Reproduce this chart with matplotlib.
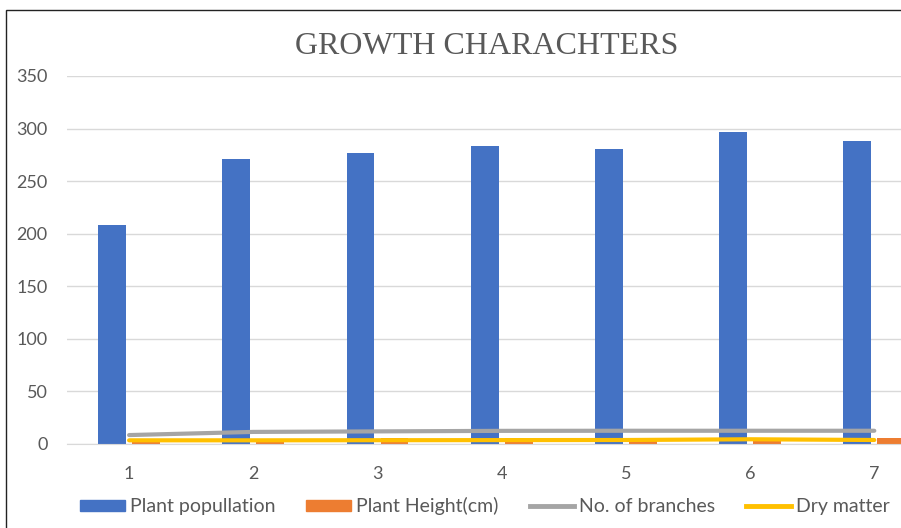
import numpy as np
import matplotlib
matplotlib.use("Agg")
import matplotlib.pyplot as plt
from matplotlib.patches import Rectangle
from matplotlib.lines import Line2D
from matplotlib.patches import Patch

# Growth characters per treatment
treatments = ["1", "2", "3", "4", "5", "6", "7"]
plant_population = [208, 271, 277, 283, 281, 297, 288]
plant_height = [3, 3, 6, 6, 6, 6, 6]
no_of_branches = [8.5, 11.5, 12, 12.5, 12.6, 12.6, 12.6]
dry_matter = [3.5, 3.5, 3.6, 3.7, 3.8, 4.5, 3.8]

BLUE = "#4472C4"
ORANGE = "#ED7D31"
GRAY = "#A5A5A5"
YELLOW = "#FFC000"
TEXT = "#595959"

plt.rcParams["font.family"] = ["Lato", "DejaVu Sans"]

W, H = 901, 528
fig = plt.figure(figsize=(W / 100, H / 100), dpi=100)

# outer chart border (only top and left edges show)
fig.patches.append(Rectangle((6 / W, -0.1), 1.2, (H - 10) / H + 0.1,
                             transform=fig.transFigure, fill=False,
                             edgecolor="#222222", linewidth=1.0))

ax = fig.add_axes([67 / W, 1 - 444 / H, (W - 67) / W, (444 - 76) / H])

x = np.arange(1, len(treatments) + 1)
bw = 0.225
off = 0.137
ax.bar(x - off, plant_population, bw, color=BLUE, zorder=2)
ax.bar(x + off, plant_height, bw, color=ORANGE, zorder=2)
ax.plot(x, no_of_branches, color=GRAY, lw=3.0, solid_capstyle="round", zorder=3)
ax.plot(x, dry_matter, color=YELLOW, lw=3.0, solid_capstyle="round", zorder=4)

ax.set_xlim(0.5, 0.5 + (W - 67) / 124.2)
ax.set_ylim(0, 350)
ax.set_yticks(range(0, 351, 50))
ax.set_xticks(x)
ax.set_xticklabels(treatments)
ax.yaxis.grid(True, color="#D9D9D9", lw=1.0, zorder=0)
ax.set_axisbelow(True)
for s in ["top", "right", "left"]:
    ax.spines[s].set_visible(False)
ax.spines["bottom"].set_color("#D9D9D9")
ax.tick_params(axis="both", length=0, labelsize=13, colors=TEXT)
ax.tick_params(axis="x", pad=16)
ax.tick_params(axis="y", pad=14)

fig.text(487 / W, 1 - 47 / H, "GROWTH CHARACHTERS", ha="center", va="center",
         fontsize=23, color=TEXT, family="Liberation Serif")

handles = [Patch(color=BLUE), Patch(color=ORANGE),
           Line2D([], [], color=GRAY, lw=3.5), Line2D([], [], color=YELLOW, lw=3.5)]
labels = ["Plant popullation", "Plant Height(cm)", "No. of branches", "Dry matter"]
fig.legend(handles, labels, loc="center", bbox_to_anchor=(485 / W, 1 - 506 / H),
           ncol=4, frameon=False, fontsize=14, labelcolor=TEXT,
           handlelength=2.3, handleheight=0.5, handletextpad=0.25,
           columnspacing=1.6)

fig.savefig("out.png", dpi=100)
